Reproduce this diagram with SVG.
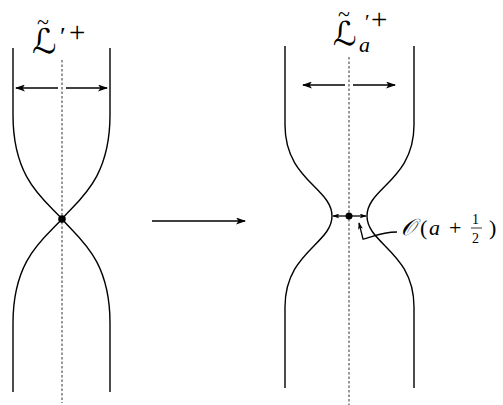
<svg xmlns="http://www.w3.org/2000/svg" width="503" height="405" viewBox="0 0 503 405">
<style>
.c{fill:none;stroke:#000;stroke-width:1.4}
.d{fill:none;stroke:#555;stroke-width:1.2;stroke-dasharray:2.5,2}
.a{fill:none;stroke:#000;stroke-width:1.3}
.t{font-family:"DejaVu Sans","Liberation Serif",serif}
.m{font-family:"Liberation Serif",serif;fill:#000}
</style>
<defs>
<marker id="ah" viewBox="0 0 10 7" refX="9" refY="3.5" markerWidth="10" markerHeight="7" markerUnits="userSpaceOnUse" orient="auto">
<path d="M0,0 L10,3.5 L0,7 L2.5,3.5 z" fill="#000"/>
</marker>
<marker id="sh" viewBox="0 0 10 7" refX="9" refY="3.5" markerWidth="7" markerHeight="5" markerUnits="userSpaceOnUse" orient="auto">
<path d="M0,0 L10,3.5 L0,7 L2.5,3.5 z" fill="#000"/>
</marker>
</defs>
<g id="left-figure">
<line class="d" x1="62" y1="60" x2="62" y2="403"/>
<path class="c" d="M13,48 L13,115 C13,180 45,200 62,219 C45,238 13,258 13,323 L13,392"/>
<path class="c" d="M110,48 L110,115 C110,180 78,200 62,219 C78,238 110,258 110,323 L110,392"/>
<circle cx="62" cy="219" r="3.8" fill="#000"/>
</g>
<g id="left-label">
<text class="m"><tspan class="t" x="32" y="53" font-size="34">ℒ</tspan><tspan x="37" y="29" font-size="22">~</tspan><tspan x="60" y="45" font-size="26">′</tspan><tspan x="69" y="42" font-size="29">+</tspan></text>
</g>
<g id="right-figure">
<line class="d" x1="349" y1="57" x2="349" y2="405"/>
<path class="c" d="M285,46 L285,125 C285,180 332,188 332,216 C332,244 285,252 285,307 L285,388"/>
<path class="c" d="M414,46 L414,125 C414,180 367,188 367,216 C367,244 414,252 414,307 L414,388"/>
<circle cx="349" cy="216" r="3.5" fill="#000"/>
</g>
<g id="right-label">
<text class="m"><tspan class="t" x="333" y="45" font-size="33">ℒ</tspan><tspan x="338" y="21" font-size="22">~</tspan><tspan x="365" y="29" font-size="21">′</tspan><tspan x="371" y="29" font-size="29">+</tspan><tspan x="359" y="52" font-size="22" font-style="italic">a</tspan></text>
</g>
<g id="o-label">
<text class="m"><tspan class="t" x="401" y="235" font-size="23" font-style="italic">𝒪</tspan><tspan x="420" y="235" font-size="22">(</tspan><tspan x="429" y="235" font-size="22" font-style="italic">a</tspan><tspan x="449" y="235" font-size="22">+</tspan><tspan x="472" y="224" font-size="14">1</tspan><tspan x="472" y="243" font-size="14">2</tspan><tspan x="489" y="235" font-size="22">)</tspan></text>
<line x1="471" y1="228" x2="482" y2="228" stroke="#000" stroke-width="0.8"/>
</g>
<g id="connectors">
<line class="a" x1="58" y1="88" x2="16" y2="88" marker-end="url(#ah)"/>
<line class="a" x1="66" y1="88" x2="107" y2="88" marker-end="url(#ah)"/>
<line class="a" x1="345" y1="85" x2="303" y2="85" marker-end="url(#ah)"/>
<line class="a" x1="353" y1="85" x2="395" y2="85" marker-end="url(#ah)"/>
<line class="a" x1="152" y1="221" x2="245" y2="221" marker-end="url(#ah)"/>
<line class="a" x1="346" y1="216" x2="333" y2="216" marker-end="url(#sh)"/>
<line class="a" x1="352" y1="216" x2="366" y2="216" marker-end="url(#sh)"/>
<path class="a" d="M397,232 C380,232 370,238 363,239 L359,223" marker-end="url(#sh)"/>
</g>
</svg>
